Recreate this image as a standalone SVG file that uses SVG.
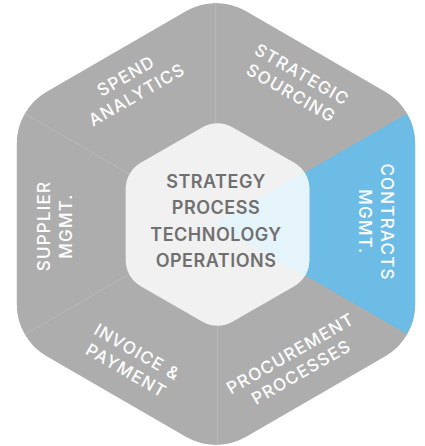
<svg xmlns="http://www.w3.org/2000/svg" width="425" height="446" viewBox="0 0 425 446">
  <style>
    .seg { fill: #adadad; }
    .seg.active { fill: #6cbce5; }
    .lbl { font-family: Inter, "Open Sans", "Liberation Sans", sans-serif; font-size: 17px; font-weight: 500; fill: #ffffff; text-anchor: middle; letter-spacing: 1.2px; }
    .core { font-family: Inter, "Open Sans", "Liberation Sans", sans-serif; font-size: 18px; font-weight: 600; fill: #707070; text-anchor: middle; letter-spacing: 0.5px; }
    .div { stroke: #bdbdbd; stroke-width: 0.8; fill: none; }
  </style>
  <defs>
    <path id="outerHex" d="M186,11.32 A60,60 0 0 1 246,11.32 L385.2,91.68 A60,60 0 0 1 415.2,143.64 L415.2,304.36 A60,60 0 0 1 385.2,356.32 L246,436.68 A60,60 0 0 1 186,436.68 L46.8,356.32 A60,60 0 0 1 16.8,304.36 L16.8,143.64 A60,60 0 0 1 46.8,91.68 Z"/>
    <path id="innerHex" d="M202.5,127.16 A30,30 0 0 1 232.5,127.16 L294.3,162.84 A30,30 0 0 1 309.3,188.82 L309.3,260.18 A30,30 0 0 1 294.3,286.16 L232.5,321.84 A30,30 0 0 1 202.5,321.84 L140.7,286.16 A30,30 0 0 1 125.7,260.18 L125.7,188.82 A30,30 0 0 1 140.7,162.84 Z"/>
    <clipPath id="clipOuter"><use href="#outerHex"/></clipPath>
    <clipPath id="clipInner"><use href="#innerHex"/></clipPath>
  </defs>

  <g id="segments" clip-path="url(#clipOuter)">
    <use href="#outerHex" fill="#adadad"/>
    <g id="spend-analytics"><polygon class="seg" points="216,224 -9.2,94 216,-36"/></g>
    <g id="strategic-sourcing"><polygon class="seg" points="216,224 216,-36 441.2,94"/></g>
    <g id="contracts-mgmt"><polygon class="seg active" points="216,224 441.2,94 441.2,354"/></g>
    <g id="procurement-processes"><polygon class="seg" points="216,224 441.2,354 216,484"/></g>
    <g id="invoice-payment"><polygon class="seg" points="216,224 216,484 -9.2,354"/></g>
    <g id="supplier-mgmt"><polygon class="seg" points="216,224 -9.2,354 -9.2,94"/></g>
  </g>

  <g id="connectors" clip-path="url(#clipOuter)">
    <line class="div" x1="215.8" y1="0" x2="215.8" y2="130"/>
    <line class="div" x1="217.6" y1="320" x2="217.6" y2="446"/>
    <line class="div" x1="216" y1="224" x2="-9.2" y2="94"/>
    <line class="div" x1="216" y1="224" x2="-9.2" y2="354"/>
  </g>

  <g id="core">
    <use href="#innerHex" fill="#f1f1f1"/>
    <polygon points="214,224 441.2,93 441.2,355" fill="#e5f3fb" clip-path="url(#clipInner)"/>
    <text class="core" x="216" y="187.5">STRATEGY</text>
    <text class="core" x="216" y="214">PROCESS</text>
    <text class="core" x="216" y="240.5">TECHNOLOGY</text>
    <text class="core" x="216" y="267">OPERATIONS</text>
  </g>

  <g id="labels">
    <g transform="translate(131.5,85.5) rotate(-30)">
      <text class="lbl" y="-5">SPEND</text>
      <text class="lbl" y="16.5">ANALYTICS</text>
    </g>
    <g transform="translate(296.5,84) rotate(30)">
      <text class="lbl" y="-5">STRATEGIC</text>
      <text class="lbl" y="16.5">SOURCING</text>
    </g>
    <g transform="translate(375.5,222) rotate(90)">
      <text class="lbl" y="-5">CONTRACTS</text>
      <text class="lbl" y="16.5">MGMT.</text>
    </g>
    <g transform="translate(296,363) rotate(-30)">
      <text class="lbl" y="-5">PROCUREMENT</text>
      <text class="lbl" y="16.5">PROCESSES</text>
    </g>
    <g transform="translate(131.6,361.5) rotate(30)">
      <text class="lbl" y="-5">INVOICE &amp;</text>
      <text class="lbl" y="16.5">PAYMENT</text>
    </g>
    <g transform="translate(55,226) rotate(-90)">
      <text class="lbl" y="-5">SUPPLIER</text>
      <text class="lbl" y="16.5">MGMT.</text>
    </g>
  </g>
</svg>
